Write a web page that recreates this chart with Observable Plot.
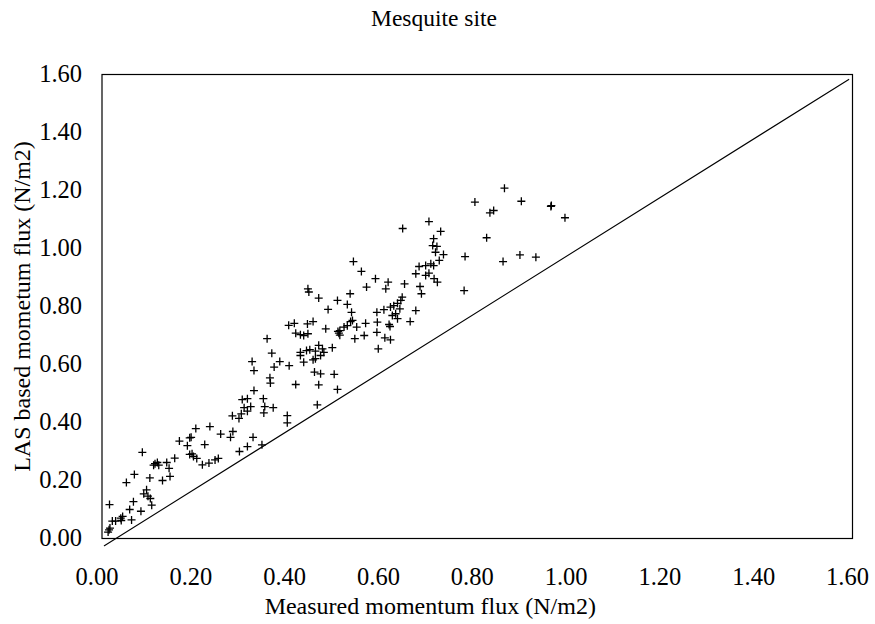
<!DOCTYPE html>
<html>
<head>
<meta charset="utf-8">
<script src="https://cdn.jsdelivr.net/npm/d3@7"></script>
<script src="https://cdn.jsdelivr.net/npm/@observablehq/plot@0.6"></script>
<style>
  body { margin: 0; background: #fff; }
  #title { width: 868px; padding-right: 7px; height: 36px; line-height: 36px; text-align: center;
           font-family: "Liberation Serif", "DejaVu Serif", serif; font-size: 23.5px; color: #000; }
</style>
</head>
<body>
<div id="title">Mesquite site</div>
<div id="chart"></div>
<script>
const title = "Mesquite site";
const xLabel = "Measured momentum flux (N/m2)";
const yLabel = "LAS based mometum flux (N/m2)";
const tickValues = [0, 0.2, 0.4, 0.6, 0.8, 1.0, 1.2, 1.4, 1.6];

// measured (x) and LAS based (y) momentum flux
const measured = [
  0.013,0.015,0.017,0.016,0.022,0.029,0.041,0.044,0.040,
  0.059,0.063,0.067,0.083,0.052,0.069,0.086,
  0.089,0.095,0.098,0.103,0.106,0.102,
  0.110,0.113,0.118,0.121,0.129,0.138,0.143,0.145,0.155,
  0.165,0.182,0.187,0.190,0.219,0.187,0.192,0.195,0.202,
  0.214,0.228,0.241,0.248,0.200,0.230,0.253,0.274,0.279,
  0.322,0.293,0.310,0.341,
  0.278,0.292,0.297,0.303,0.310,0.299,0.310,0.344,
  0.317,0.347,0.365,0.345,0.395,0.395,0.459,
  0.324,0.358,0.359,0.413,0.462,0.502,0.453,0.466,0.495,
  0.320,0.324,0.379,0.399,0.367,0.362,0.352,
  0.423,0.423,0.436,0.443,0.455,0.462,0.470,0.473,0.466,0.455,0.450,0.430,0.491,
  0.413,0.423,0.430,0.439,0.505,0.507,0.539,0.559,0.586,0.603,0.615,0.589,
  0.536,0.553,0.439,0.441,0.462,0.502,0.529,0.523,0.532,0.482,
  0.583,0.610,0.605,0.564,0.645,0.678,0.681,
  0.676,0.690,0.701,0.707,0.669,0.690,0.697,0.708,0.715,
  0.711,0.728,0.719,0.774,0.772,
  0.640,0.637,0.630,0.622,0.615,0.635,0.626,0.630,0.619,
  0.669,0.657,0.586,0.601,0.612,0.587,0.562,0.614,
  0.530,0.534,0.516,0.523,0.507,0.503,0.543,
  0.438,0.450,0.477,0.398,0.410,
  0.795,0.894,0.827,0.835,0.957,0.958,0.987,0.820,0.855,0.891,0.925,0.858,
  0.641,0.697,0.707,0.722,0.705,0.714
];
const las = [
  0.022,0.030,0.036,0.117,0.060,0.060,0.062,0.076,0.070,
  0.100,0.064,0.127,0.094,0.193,0.221,0.297,
  0.154,0.168,0.146,0.138,0.115,0.209,
  0.253,0.258,0.262,0.253,0.200,0.262,0.242,0.214,0.277,
  0.336,0.320,0.347,0.349,0.324,0.290,0.292,0.283,0.276,
  0.254,0.260,0.271,0.276,0.379,0.386,0.360,0.349,0.369,
  0.349,0.300,0.317,0.323,
  0.423,0.414,0.430,0.451,0.439,0.479,0.482,0.482,
  0.455,0.455,0.451,0.433,0.424,0.399,0.461,
  0.510,0.554,0.536,0.531,0.530,0.514,0.574,0.568,0.566,
  0.610,0.579,0.610,0.596,0.591,0.639,0.689,
  0.642,0.631,0.648,0.651,0.646,0.666,0.654,0.642,0.631,0.620,0.616,0.608,0.658,
  0.708,0.703,0.700,0.706,0.708,0.701,0.689,0.700,0.711,0.692,0.685,0.654,
  0.955,0.921,0.861,0.850,0.829,0.821,0.844,0.807,0.780,0.790,
  0.896,0.884,0.861,0.867,0.878,0.869,0.844,
  0.938,0.941,0.947,0.941,0.913,0.907,0.915,0.896,0.884,
  0.987,0.979,0.959,0.972,0.855,
  0.832,0.821,0.811,0.803,0.798,0.792,0.775,0.758,0.769,
  0.786,0.748,0.780,0.789,0.738,0.746,0.742,0.731,
  0.748,0.752,0.729,0.734,0.717,0.714,0.729,
  0.740,0.748,0.723,0.735,0.742,
  1.160,1.163,1.123,1.131,1.145,1.148,1.106,1.037,0.955,0.978,0.970,1.208,
  1.069,1.093,1.034,1.059,1.010,1.007
];
// reference line end points
const refLineX = [0.005, 1.592];
const refLineY = [-0.025, 1.583];

const points = measured.map((x, i) => ({x, y: las[i]}));
const refLine = refLineX.map((x, i) => ({x, y: refLineY[i]}));

const cross = {
  draw(ctx, size) {
    const r = Math.sqrt(size / Math.PI);
    ctx.moveTo(-r, 0); ctx.lineTo(r, 0);
    ctx.moveTo(0, -r); ctx.lineTo(0, r);
  }
};
const fmt = d3.format(".2f");

const chart = Plot.plot({
  width: 875,
  height: 588,
  marginTop: 38,
  marginBottom: 86,
  marginLeft: 101.5,
  marginRight: 23,
  style: {fontFamily: "'Liberation Serif', 'DejaVu Serif', serif", fontSize: "24.5px", color: "#000", background: "#fff"},
  x: {domain: [0, 1.6]},
  y: {domain: [0, 1.6]},
  marks: [
    Plot.frame({stroke: "#000", strokeWidth: 1.2}),
    Plot.axisX({ticks: tickValues, tickSize: 0, tickPadding: 29, tickFormat: fmt, dx: -5, label: null, fontSize: 24.5}),
    Plot.axisY({ticks: tickValues, tickSize: 0, tickPadding: 20, tickFormat: fmt, label: null, fontSize: 24.5}),
    Plot.line(refLine, {x: "x", y: "y", stroke: "#000", strokeWidth: 1.1}),
    Plot.dot(points, {x: "x", y: "y", symbol: cross, r: 4, stroke: "#000", strokeWidth: 1.3, fill: "none"}),
    Plot.text([xLabel], {text: d => d, frameAnchor: "bottom", lineAnchor: "middle", textAnchor: "middle", dy: 68, dx: -47, fontSize: 24}),
    Plot.text([yLabel], {text: d => d, frameAnchor: "left", textAnchor: "middle", lineAnchor: "middle", rotate: -90, dx: -80, fontSize: 24})
  ]
});
document.getElementById("chart").appendChild(chart);
</script>
</body>
</html>
